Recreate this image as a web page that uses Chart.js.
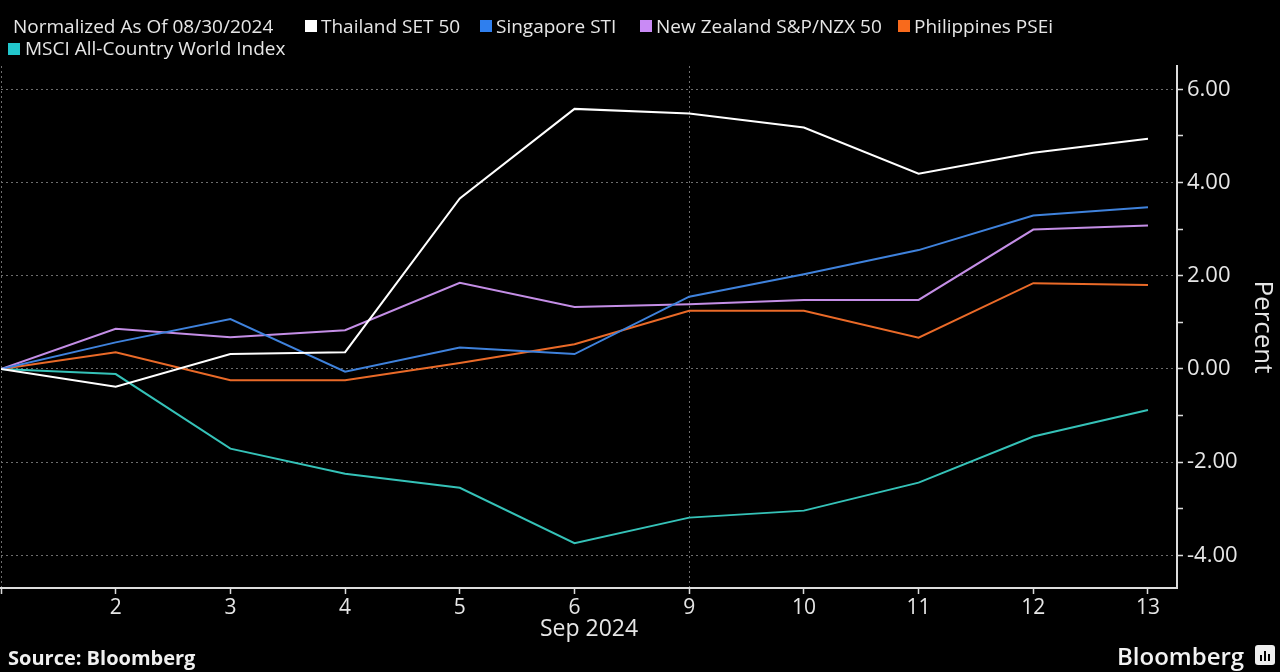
<!DOCTYPE html>
<html><head><meta charset="utf-8">
<script src="https://cdn.jsdelivr.net/npm/chart.js@4.4.1/dist/chart.umd.min.js"></script>
<style>
html,body{margin:0;padding:0;background:#000;}
#wrap{position:relative;width:1280px;height:672px;background:#000;overflow:hidden;font-family:'Open Sans',sans-serif;color:#e6e6e6;}
#wrap canvas{position:absolute;left:0;top:0;}
.t{position:absolute;font-size:19px;line-height:22px;white-space:nowrap;}
.sq{position:absolute;width:12px;height:12px;}
#logo{position:absolute;left:1255px;top:645px;width:20px;height:20px;background:#eee;border-radius:3px;}
#logo span{position:absolute;bottom:4px;width:2px;background:#000;}
</style></head><body>
<div id="wrap">
 <canvas id="c" width="1280" height="672"></canvas>
 <div id="legend"></div>
 <div class="t" style="left:8px;top:646px;font-size:20px;line-height:24px;font-weight:bold;color:#f0f0f0;">Source: Bloomberg</div>
 <div class="t" style="left:1117px;top:641px;font-size:24px;line-height:30px;font-weight:600;color:#f2f2f2;">Bloomberg</div>
 <div id="logo"><span style="left:5px;height:6px"></span><span style="left:9px;height:10px"></span><span style="left:13px;height:7px"></span></div>
</div>
<script>
const categories = ['Aug 30','Sep 2','Sep 3','Sep 4','Sep 5','Sep 6','Sep 9','Sep 10','Sep 11','Sep 12','Sep 13'];
const tickLabels = ['', '2', '3', '4', '5', '6', '9', '10', '11', '12', '13'];
const yTickValues = [-4, -2, 0, 2, 4, 6];

const seriesNames = ['Thailand SET 50', 'Singapore STI', 'New Zealand S&P/NZX 50', 'Philippines PSEi', 'MSCI All-Country World Index'];
const seriesColors = ['#ffffff', '#3f82dc', '#c48ee6', '#ea6a28', '#35c2b8'];
const legendColors = ['#ffffff', '#2f7fee', '#c98af5', '#f86a1c', '#22c6cc'];

const thailand    = [0, -0.38, 0.32, 0.36, 3.66, 5.58, 5.48, 5.18, 4.19, 4.64, 4.94];
const singapore   = [0, 0.57, 1.07, -0.06, 0.46, 0.32, 1.55, 2.03, 2.55, 3.29, 3.47];
const newZealand  = [0, 0.86, 0.68, 0.83, 1.85, 1.33, 1.39, 1.48, 1.48, 2.99, 3.08];
const philippines = [0, 0.36, -0.24, -0.24, 0.13, 0.53, 1.25, 1.25, 0.67, 1.84, 1.80];
const msci        = [0, -0.11, -1.71, -2.25, -2.55, -3.74, -3.19, -3.04, -2.44, -1.45, -0.88];

const allSeries = [thailand, singapore, newZealand, philippines, msci];

// header legend
const leg = document.getElementById('legend');
function addText(txt, left, top){const d=document.createElement('div');d.className='t';d.style.left=left+'px';d.style.top=top+'px';d.textContent=txt;leg.appendChild(d);}
function addSq(color,left,top){const d=document.createElement('div');d.className='sq';d.style.left=left+'px';d.style.top=top+'px';d.style.background=color;leg.appendChild(d);}
addText('Normalized As Of 08/30/2024', 13, 15);
const legPos = [[305,321,15,20],[480,496,15,20],[640,656,15,20],[898,914,15,20],[8,25,37,43]];
seriesNames.forEach((n,i)=>{const p=legPos[i];addSq(legendColors[i],p[0],p[3]);addText(n,p[1],p[2]);});

const FONT = "'Open Sans', sans-serif";
const TXT = '#e6e6e6';
const isInt = v => Math.abs(v - Math.round(v)) < 1e-6;

new Chart(document.getElementById('c').getContext('2d'), {
  type: 'line',
  data: {
    datasets: allSeries.map((vals, i) => ({
      label: seriesNames[i],
      data: vals.map((v, j) => ({x: j, y: v})),
      borderColor: seriesColors[i],
      backgroundColor: seriesColors[i],
      borderWidth: 2,
      pointRadius: 0,
      tension: 0,
      fill: false
    }))
  },
  options: {
    responsive: false,
    animation: false,
    layout: {padding: {top: 66, left: 1, right: 0, bottom: 0}},
    plugins: {legend: {display: false}, tooltip: {enabled: false}},
    scales: {
      x: {
        type: 'linear', min: 0, max: 10.253,
        afterFit(s){ s.height = 84; },
        ticks: {
          stepSize: 1, includeBounds: false, autoSkip: false, maxRotation: 0,
          color: TXT, font: {size: 21, family: FONT}, padding: 1,
          callback: v => isInt(v) ? (tickLabels[Math.round(v)] ?? '') : ''
        },
        grid: {
          color: c => (c.tick && (c.tick.value === 0 || c.tick.value === 6)) ? '#6e6e6e' : 'rgba(0,0,0,0)',
          lineWidth: 1, drawTicks: true, tickLength: 6, tickColor: '#dcdcdc', tickBorderDash: [], tickWidth: 1.5
        },
        border: {color: '#dcdcdc', width: 2, dash: [2, 3]},
        title: {display: true, text: 'Sep 2024', color: TXT, font: {size: 23, family: FONT}, padding: {top: 0, bottom: 29}}
      },
      y: {
        position: 'right', min: -4.7, max: 6.5,
        afterFit(s){ s.width = 103; },
        ticks: {
          stepSize: 1, includeBounds: false, color: TXT, font: {size: 22, family: FONT}, padding: 4,
          callback: v => (isInt(v) && yTickValues.includes(Math.round(v))) ? Math.round(v).toFixed(2) : ''
        },
        grid: {
          color: c => (c.tick && yTickValues.includes(Math.round(c.tick.value))) ? '#6e6e6e' : 'rgba(0,0,0,0)',
          lineWidth: 1, tickLength: 6, tickColor: '#dcdcdc', tickBorderDash: [], tickWidth: 1.5
        },
        border: {color: '#dcdcdc', width: 2, dash: [2, 3]},
        title: {display: true, text: 'Percent', color: TXT, font: {size: 26, family: FONT}, padding: {top: 2, bottom: 0}}
      }
    }
  }
});
</script>
</body></html>
